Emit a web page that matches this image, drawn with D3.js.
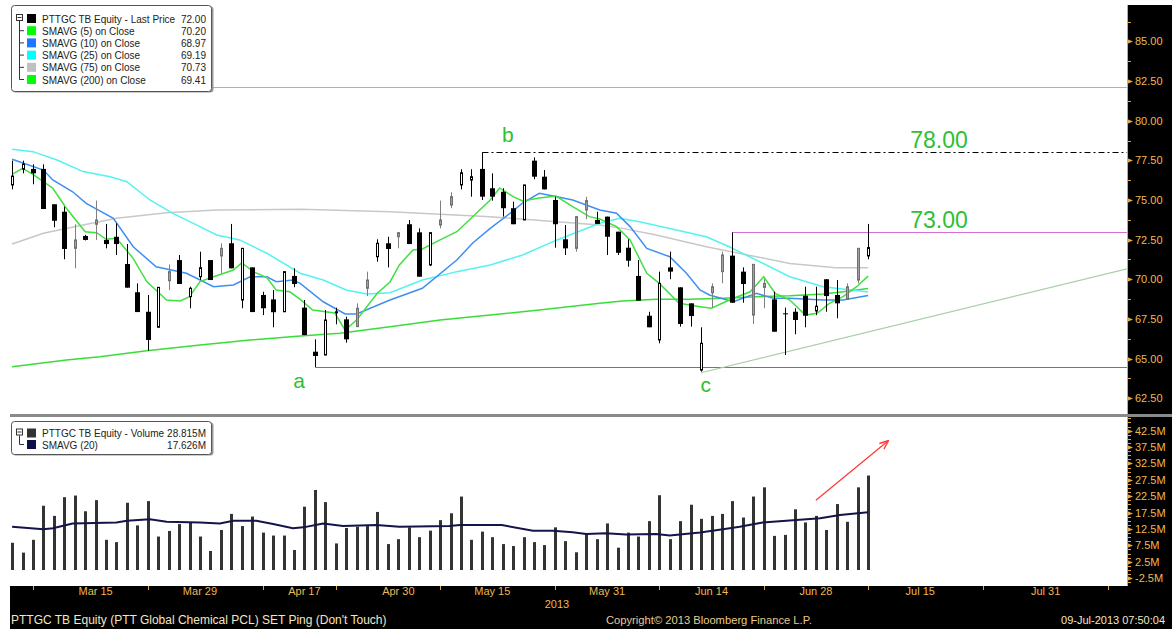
<!DOCTYPE html>
<html>
<head>
<meta charset="utf-8">
<script src="https://cdnjs.cloudflare.com/ajax/libs/d3/7.8.5/d3.min.js"></script>
<style>
body { margin: 0; background: #fff; }
svg { display: block; }
text { font-family: "Liberation Sans", Arial, sans-serif; }
</style>
</head>
<body>
<div id="chart"></div>
<script>
// daily bars, index 0 .. 82 (trading days)
var opens  = [75.95,76.94,76.96,76.96,74.73,74.26,71.95,72.73,73.47,72.48,72.68,70.96,69.18,67.95,66.97,69.91,71.21,68.90,70.16,71.21,
              71.47,72.27,68.69,70.75,69.01,68.73,67.95,70.21,68.21,65.43,65.22,67.90,67.47,67.01,69.43,71.42,72.27,72.68,73.47,72.96,
              70.90,73.42,74.68,75.95,76.26,76.96,75.74,75.52,74.48,73.74,77.48,76.47,75.00,72.52,71.95,74.37,73.74,73.95,73.00,71.99,
              70.21,67.70,66.17,70.75,69.49,68.48,64.27,69.15,70.48,71.49,70.48,67.74,69.49,68.73,67.85,67.95,68.96,68.00,70.00,69.01,
              68.73,69.95,71.47];
var highs  = [77.48,77.48,77.25,77.25,74.73,74.58,73.47,72.80,74.96,73.49,73.53,72.22,69.74,69.01,69.49,70.94,71.53,69.53,71.74,71.21,
              72.27,73.49,71.95,70.75,69.21,69.32,70.48,70.69,68.69,66.21,68.06,68.21,67.64,68.48,70.48,72.52,72.68,72.94,73.74,73.21,
              72.94,74.96,75.49,76.94,76.94,78.01,76.68,75.74,74.89,75.95,77.69,76.89,75.21,73.42,73.95,75.21,74.26,73.95,73.00,72.52,
              71.21,67.95,70.48,71.74,69.49,68.48,66.97,69.74,71.74,72.96,70.75,70.94,70.00,69.21,68.21,68.17,69.53,69.53,70.00,69.95,
              69.74,71.95,73.49];
var lows   = [75.67,76.68,75.99,74.43,73.28,71.26,70.69,72.45,72.48,71.95,71.53,69.47,67.93,65.49,66.97,69.32,69.70,68.17,69.95,69.95,
              70.38,70.69,68.17,67.93,67.74,66.97,67.95,69.50,66.48,64.45,65.22,67.16,66.00,67.01,68.94,71.11,70.75,71.95,72.22,70.16,
              70.84,73.21,74.48,75.67,75.21,75.00,74.96,73.95,73.47,73.74,76.31,75.67,71.99,71.53,71.74,73.78,73.49,71.53,71.53,70.79,
              68.65,66.97,65.96,70.00,67.01,67.01,64.17,68.21,69.74,68.52,68.52,67.18,68.17,66.69,65.22,66.53,66.97,67.74,67.95,67.54,
              68.69,69.74,71.26];
var closes = [76.51,77.27,76.68,74.43,73.69,71.91,72.48,72.48,73.74,72.22,72.22,69.47,67.93,66.17,69.49,70.48,69.70,69.43,70.73,69.95,
              71.95,70.69,71.95,67.93,68.17,67.92,70.48,69.70,66.48,65.16,67.43,67.95,66.21,68.17,69.95,72.27,71.91,72.94,72.22,70.16,
              72.94,73.74,75.21,76.72,76.47,75.21,75.21,74.48,73.47,75.95,76.47,75.67,73.47,71.95,73.95,74.96,73.49,72.68,71.67,71.17,
              68.65,66.97,69.74,70.48,67.18,67.68,65.96,69.53,71.53,68.52,69.70,70.94,69.74,66.69,67.79,67.43,67.70,68.30,68.94,68.48,
              69.53,71.95,72.00];
// bars printed in grey on the original
var grayBars = [6,8,15,20,33,34,37,41,42,54,55,67,68,71,72,80,81];

// volume, millions
var volumes = [8.3,5.3,9.2,19.6,16.5,22.2,22.7,17.9,21.3,9.2,8.5,20.5,13.6,21.0,10.2,11.9,14.0,14.6,10.2,5.8,
               12.2,17.1,13.4,16.3,11.4,10.5,10.5,6.1,19.3,24.4,20.7,8.1,12.8,13.2,13.4,17.7,7.9,9.4,13.0,10.0,
               12.0,15.2,17.3,22.4,9.2,11.7,10.0,7.9,7.3,10.0,8.5,7.6,13.0,8.8,5.4,11.0,9.4,14.2,6.8,11.4,
               10.2,14.9,22.8,9.4,14.9,19.9,15.6,16.5,17.1,21.0,16.0,22.4,25.2,10.4,10.7,18.5,14.5,16.5,12.2,20.1,
               14.7,25.2,28.8];

// moving averages as [bar index, value]
var sma5 = [[0,76.62],[1,77.0],[2,76.62],[3.9,75.74],[5.2,74.48],[7,73.0],[8.1,72.94],[9,72.52],[10,72.58],[11.6,71.32],
            [12.9,69.85],[14.8,68.69],[16.1,68.63],[17,68.9],[18,69.85],[19.3,70.16],[21.2,70.58],[22,71.04],[23.1,70.48],[24.4,70.1],
            [25.3,69.32],[26.6,69.21],[27.6,68.73],[28.8,68.06],[30.9,67.87],[31.9,66.8],[33,67.43],[35,69.13],[36.2,69.83],[37.1,70.9],
            [38.4,71.85],[39.3,71.91],[41,72.48],[42.6,73.0],[44.1,73.93],[45.8,75.0],[46.7,75.76],[48,75.21],[48.9,74.94],[50.5,75.13],
            [52.1,75.25],[53.7,74.58],[55.3,73.95],[56.3,73.8],[57.9,73.32],[59.2,72.48],[60.8,70.38],[62,69.74],[63.9,68.48],[65.9,68.27],
            [67,68.17],[68.7,68.69],[70.7,69.21],[72,70.16],[73.1,69.11],[74.5,68.69],[76,67.74],[77.1,67.85],[78.3,68.48],[79.6,68.9],
            [80.9,69.53],[82,70.2]];
var sma10 = [[0,77.57],[3,76.89],[3.9,76.26],[5.8,75.52],[7.1,74.79],[9.7,73.85],[11.6,72.05],[13.8,70.79],[16.7,70.38],[19.3,69.53],
             [21.2,69.64],[22.8,70.16],[24.4,70.16],[25.3,69.85],[26.9,69.95],[27.6,69.74],[29.8,68.58],[31.9,67.81],[33,67.81],[36.2,68.69],
             [39.3,69.43],[42.6,71.21],[44.1,72.27],[45.8,73.21],[47.7,74.16],[48.9,74.81],[50.5,75.42],[52.2,75.21],[53.7,75.0],[56.3,74.37],
             [57.9,74.16],[59.2,73.32],[60.8,71.95],[63,71.42],[64.6,70.38],[65.9,69.32],[66.8,69.01],[69.1,68.58],[71.3,69.11],[72.9,68.8],
             [74.5,68.8],[77.7,68.69],[79.6,68.69],[82,68.97]];
var sma25 = [[0,78.2],[2,78.05],[4.3,77.52],[6.8,76.79],[9.4,76.47],[11,76.15],[13.2,75.0],[15.4,74.16],[18,73.32],[19.6,72.79],
             [21.8,72.48],[24.4,71.64],[27.6,70.38],[29.8,69.95],[32,69.32],[34,69.07],[36.2,69.15],[39.3,69.95],[42.6,70.48],[45.8,70.9],
             [48.9,71.53],[52.2,72.48],[56.3,73.53],[58.2,73.85],[60.1,73.63],[63.3,73.15],[66.5,72.68],[68.7,72.05],[74.5,70.16],[77.7,69.53],
             [82,69.19]];
var sma75 = [[0,72.22],[3,72.9],[6.8,73.42],[10,73.85],[14.8,74.2],[19.6,74.37],[27.6,74.41],[36.2,74.26],[45.8,73.95],[52.5,73.61],
             [56.3,73.42],[58.5,73.21],[61.7,72.79],[66.5,72.05],[71.3,71.42],[74.5,71.0],[78.9,70.73],[82,70.73]];
var sma200 = [[0,64.48],[5.2,64.91],[8.4,65.11],[12.9,65.49],[18,65.85],[22.8,66.17],[27.6,66.42],[31.4,66.59],[36.2,67.01],[41,67.43],
              [45.8,67.74],[50.5,68.06],[56.3,68.48],[58.5,68.63],[61.7,68.74],[64.9,68.74],[68.1,68.8],[71.3,68.9],[74.5,68.96],[77.7,69.07],
              [79.6,69.21],[82,69.41]];
var volSma20 = [[0,13.2],[3,12.4],[3.9,12.7],[5.8,14.2],[10,14.5],[11,15.0],[13.2,15.5],[14.8,14.7],[18,14.5],[19.9,14.2],
                [21.2,15.0],[23.4,15.0],[25,14.0],[26.9,12.7],[27.9,13.0],[29.8,14.2],[31.7,13.4],[34.9,13.7],[37.1,13.2],[41.9,13.4],
                [42.9,13.7],[46.9,13.7],[49.9,12.0],[51.8,12.0],[53.7,11.5],[55,11.0],[56.9,11.2],[58.8,10.8],[61.7,11.0],[63,10.5],
                [65.9,11.4],[68.1,12.4],[69.7,13.2],[71.9,14.5],[74.8,15.2],[77.4,15.8],[79.3,16.8],[82,17.6]];

// legends
var priceLegend = [["PTTGC TB Equity - Last Price", "72.00", "#000000"],
                   ["SMAVG (5) on Close", "70.20", "#00ff00"],
                   ["SMAVG (10) on Close", "68.97", "#1e78ff"],
                   ["SMAVG (25) on Close", "69.19", "#00ffff"],
                   ["SMAVG (75) on Close", "70.73", "#c0c0c0"],
                   ["SMAVG (200) on Close", "69.41", "#00ff00"]];
var volLegend = [["PTTGC TB Equity - Volume", "28.815M", "#333333"],
                 ["SMAVG (20)", "17.626M", "#101048"]];

// axes
var priceTicks = [62.5,65,67.5,70,72.5,75,77.5,80,82.5,85];
var volTicks = [-2.5,2.5,7.5,12.5,17.5,22.5,27.5,32.5,37.5,42.5];
var xTickIdx = [2,13,24,31,41,52,62,72,82,93,105];
var xLabelIdx = [8,18,28,37,46,57,67,77,87,99];
var xLabels = ["Mar 15","Mar 29","Apr 17","Apr 30","May 15","May 31","Jun 14","Jun 28","Jul 15","Jul 31"];

// drawn annotations
var levelB = 78.00, levelTop = 73.00, levelA = 64.45, topRule = 82.13;
var trendPts = [[66,64.1],[106.8,70.66]];
var volArrow = [[77,21.3],[83.9,39.3]];
var letters = [["a", 27.5, 63.15], ["b", 47.5, 78.66], ["c", 66.45, 62.9]];

var W = 1172, H = 629;
var plotL = 10, plotR = 1127,
    priceTop = 5, priceBot = 414,
    volTop = 417, volBot = 586;

var svg = d3.select("#chart")
    .append("svg")
    .attr("width", W)
    .attr("height", H);

var x = d3.scaleLinear().domain([-0.2, 106.8]).range([plotL, plotR]);
var y = d3.scaleLinear().domain([61.5, 87.3]).range([priceBot, priceTop]);
var yv = d3.scaleLinear().domain([-4.88, 46.65]).range([volBot, volTop]);

var defs = svg.append("defs");
defs.append("clipPath").attr("id", "clipPrice")
    .append("rect").attr("x", plotL).attr("y", priceTop).attr("width", plotR - plotL).attr("height", priceBot - priceTop);
defs.append("clipPath").attr("id", "clipVol")
    .append("rect").attr("x", plotL).attr("y", volTop).attr("width", plotR - plotL).attr("height", volBot - volTop);
defs.append("marker").attr("id", "arrowHead")
    .attr("viewBox", "0 0 10 10").attr("refX", 9).attr("refY", 5)
    .attr("markerWidth", 7).attr("markerHeight", 7).attr("orient", "auto")
    .append("path").attr("d", "M0,1 L10,5 L0,9").attr("fill", "none").attr("stroke", "#ff3b3b").attr("stroke-width", 1.5);

// frame: black axis column and bottom strip
svg.append("rect").attr("x", plotR).attr("y", priceTop).attr("width", W - plotR).attr("height", volBot - priceTop).attr("fill", "#000");
svg.append("rect").attr("x", plotL).attr("y", volBot).attr("width", W - plotL).attr("height", H - volBot).attr("fill", "#000");

var px = function(i) { return Math.round(x(i)); };

// ---------- price panel ----------
var gp = svg.append("g").attr("clip-path", "url(#clipPrice)");

gp.append("line")
    .attr("x1", 212).attr("x2", plotR)
    .attr("y1", Math.round(y(topRule)) + 0.5).attr("y2", Math.round(y(topRule)) + 0.5)
    .attr("stroke", "#a8b8a8").attr("stroke-width", 1);

var lineGen = d3.line()
    .x(function(d) { return x(d[0]); })
    .y(function(d) { return y(d[1]); });

var maSeries = [[sma200, "#39dd39"], [sma75, "#c8c8c8"], [sma25, "#55f2f2"], [sma10, "#3f8ff0"], [sma5, "#40e040"]];
maSeries.forEach(function(s) {
    gp.append("path")
        .datum(s[0])
        .attr("d", lineGen)
        .attr("fill", "none")
        .attr("stroke", s[1])
        .attr("stroke-width", 1.5);
});

// horizontal levels
gp.append("line")
    .attr("x1", px(45) + 0.5).attr("x2", plotR)
    .attr("y1", Math.round(y(levelB)) + 0.5).attr("y2", Math.round(y(levelB)) + 0.5)
    .attr("stroke", "#000").attr("stroke-dasharray", "6,3,2,3");
gp.append("line")
    .attr("x1", px(69) + 0.5).attr("x2", plotR)
    .attr("y1", Math.round(y(levelTop)) + 0.5).attr("y2", Math.round(y(levelTop)) + 0.5)
    .attr("stroke", "#d36fd3");
gp.append("line")
    .attr("x1", px(29) + 0.5).attr("x2", plotR)
    .attr("y1", Math.round(y(levelA)) + 0.5).attr("y2", Math.round(y(levelA)) + 0.5)
    .attr("stroke", "#ff3c3c");
gp.append("path")
    .datum(trendPts)
    .attr("d", lineGen)
    .attr("stroke", "#a9cfa9").attr("stroke-width", 1.2).attr("fill", "none");

var grayIdx = new Set(grayBars);
var candle = gp.selectAll(".candle")
    .data(d3.range(closes.length))
    .enter().append("g")
    .attr("class", "candle");

candle.append("line")
    .attr("x1", function(i) { return px(i) + 0.5; })
    .attr("x2", function(i) { return px(i) + 0.5; })
    .attr("y1", function(i) { return y(highs[i]); })
    .attr("y2", function(i) { return y(lows[i]); })
    .attr("stroke", function(i) { return grayIdx.has(i) ? "#808080" : "#000"; });

candle.append("rect")
    .attr("x", function(i) {
        if (grayIdx.has(i) || closes[i] > opens[i]) return px(i) - 0.5;
        return px(i) - 2;
    })
    .attr("width", function(i) { return (grayIdx.has(i) || closes[i] > opens[i]) ? 2 : 5; })
    .attr("y", function(i) { return y(Math.max(opens[i], closes[i])); })
    .attr("height", function(i) { return Math.max(1, Math.abs(y(opens[i]) - y(closes[i]))); })
    .attr("fill", function(i) {
        if (grayIdx.has(i)) return "#a0a0a0";
        return closes[i] > opens[i] ? "#fff" : "#000";
    })
    .attr("stroke", function(i) {
        if (grayIdx.has(i)) return "#707070";
        return closes[i] > opens[i] ? "#000" : "none";
    })
    .attr("stroke-width", 1);

// letters and level labels
var green = "#2fbf2f";
letters.forEach(function(t) {
    gp.append("text")
        .attr("x", x(t[1])).attr("y", y(t[2]))
        .attr("text-anchor", "middle")
        .style("font-size", "21px")
        .attr("fill", green)
        .text(t[0]);
});
[[levelB, "78.00"], [levelTop, "73.00"]].forEach(function(t) {
    gp.append("text")
        .attr("x", 939).attr("y", y(t[0]) - 4)
        .attr("text-anchor", "middle")
        .style("font-size", "23px")
        .attr("fill", green)
        .text(t[1]);
});

// ---------- volume panel ----------
var gv = svg.append("g").attr("clip-path", "url(#clipVol)");

gv.selectAll(".vbar")
    .data(volumes)
    .enter().append("rect")
    .attr("class", "vbar")
    .attr("x", function(d, i) { return px(i) - 1; })
    .attr("width", 3)
    .attr("y", function(d) { return yv(d); })
    .attr("height", function(d) { return yv(0) - yv(d); })
    .attr("fill", "#333");

gv.append("path")
    .datum(volSma20)
    .attr("d", d3.line()
        .x(function(d) { return x(d[0]); })
        .y(function(d) { return yv(d[1]); }))
    .attr("fill", "none")
    .attr("stroke", "#14144a")
    .attr("stroke-width", 2);

gv.append("line")
    .attr("x1", x(volArrow[0][0])).attr("y1", yv(volArrow[0][1]))
    .attr("x2", x(volArrow[1][0])).attr("y2", yv(volArrow[1][1]))
    .attr("stroke", "#ff3b3b").attr("stroke-width", 1.3)
    .attr("marker-end", "url(#arrowHead)");

// panel separator
svg.append("rect").attr("x", plotL).attr("y", 414).attr("width", W - plotL).attr("height", 3).attr("fill", "#8a8a8a");

// ---------- right axes ----------
var axisCol = "#e8a93c", labelCol = "#f0b850";
svg.append("line").attr("x1", plotR + 0.5).attr("x2", plotR + 0.5).attr("y1", priceTop).attr("y2", priceBot).attr("stroke", axisCol);
svg.append("line").attr("x1", plotR + 0.5).attr("x2", plotR + 0.5).attr("y1", volTop).attr("y2", volBot).attr("stroke", axisCol);

function drawAxis(scale, ticks, step, fmt) {
    var lo = scale.domain()[0], hi = scale.domain()[1];
    var minor = d3.range(Math.ceil(lo / step) * step, hi, step);
    svg.selectAll(null).data(minor).enter().append("line")
        .attr("x1", plotR).attr("x2", plotR + 4)
        .attr("y1", function(d) { return Math.round(scale(d)) + 0.5; })
        .attr("y2", function(d) { return Math.round(scale(d)) + 0.5; })
        .attr("stroke", axisCol);
    svg.selectAll(null).data(ticks).enter().append("path")
        .attr("d", function(d) { var yy = Math.round(scale(d)) + 0.5; return "M" + plotR + "," + (yy - 2.5) + "L" + (plotR + 6) + "," + yy + "L" + plotR + "," + (yy + 2.5) + "Z"; })
        .attr("fill", axisCol);
    svg.selectAll(null).data(ticks).enter().append("text")
        .attr("x", plotR + 8)
        .attr("y", function(d) { return scale(d) + 4; })
        .style("font-size", "11px")
        .attr("fill", labelCol)
        .text(fmt);
}
drawAxis(y, priceTicks, 1.25, function(d) { return d3.format(".2f")(d); });
drawAxis(yv, volTicks, 1.25, function(d) { return d + "M"; });

// ---------- bottom time axis ----------
svg.selectAll(".xt")
    .data(xTickIdx)
    .enter().append("line")
    .attr("class", "xt")
    .attr("x1", function(d) { return px(d) + 0.5; })
    .attr("x2", function(d) { return px(d) + 0.5; })
    .attr("y1", volBot).attr("y2", volBot + 4)
    .attr("stroke", axisCol);

svg.selectAll(".xl")
    .data(xLabelIdx)
    .enter().append("text")
    .attr("class", "xl")
    .attr("x", function(d) { return x(d); })
    .attr("y", 595)
    .attr("text-anchor", "middle")
    .style("font-size", "11px")
    .attr("fill", labelCol)
    .text(function(d, i) { return xLabels[i]; });

svg.append("text").attr("x", 557).attr("y", 608).attr("text-anchor", "middle")
    .style("font-size", "11px").attr("fill", labelCol).text("2013");

svg.append("text").attr("x", 11).attr("y", 624)
    .style("font-size", "12px").attr("fill", "#f3e6c0")
    .text("PTTGC TB Equity (PTT Global Chemical PCL) SET Ping (Don't Touch)");
svg.append("text").attr("x", 606).attr("y", 624)
    .style("font-size", "11.2px").attr("fill", "#ebc98a")
    .text("Copyright\u00a9 2013 Bloomberg Finance L.P.");
svg.append("text").attr("x", 1165).attr("y", 624).attr("text-anchor", "end")
    .style("font-size", "11px").attr("fill", "#f3e6c0")
    .text("09-Jul-2013 07:50:04");

// ---------- legends ----------
function drawLegend(rows, top, firstOff, rowH, height) {
    var g = svg.append("g");
    g.append("rect").attr("x", 12.5).attr("y", top + 1.5).attr("width", 201).attr("height", height)
        .attr("rx", 3).attr("fill", "#9a9a9a");
    g.append("rect").attr("x", 11.5).attr("y", top + 0.5).attr("width", 200).attr("height", height)
        .attr("rx", 3).attr("fill", "#fff").attr("stroke", "#555");
    var first = top + firstOff;
    g.append("rect").attr("x", 16.5).attr("y", first - 3.5).attr("width", 6).attr("height", 6)
        .attr("fill", "#fff").attr("stroke", "#333");
    g.append("line").attr("x1", 17.5).attr("x2", 21.5).attr("y1", first - 0.5).attr("y2", first - 0.5).attr("stroke", "#333");
    g.append("line").attr("x1", 19.5).attr("x2", 19.5).attr("y1", first + 3).attr("y2", first + (rows.length - 1) * rowH + 0.5)
        .attr("stroke", "#333");
    var row = g.selectAll(".row").data(rows).enter().append("g")
        .attr("transform", function(d, i) { return "translate(0," + (first + i * rowH) + ")"; });
    row.filter(function(d, i) { return i > 0; }).append("line")
        .attr("x1", 19.5).attr("x2", 24).attr("y1", 0.5).attr("y2", 0.5).attr("stroke", "#333");
    row.append("rect").attr("x", 27).attr("y", -4).attr("width", 9).attr("height", 9)
        .attr("fill", function(d) { return d[2]; });
    row.append("text").attr("x", 42).attr("y", 4.5).style("font-size", "10px").attr("fill", "#222")
        .text(function(d) { return d[0]; });
    row.append("text").attr("x", 206).attr("y", 4.5).attr("text-anchor", "end").style("font-size", "10px").attr("fill", "#222")
        .text(function(d) { return d[1]; });
}
drawLegend(priceLegend, 5, 13, 12.2, 86);
drawLegend(volLegend, 421, 11.5, 11.5, 33);
</script>
</body>
</html>
